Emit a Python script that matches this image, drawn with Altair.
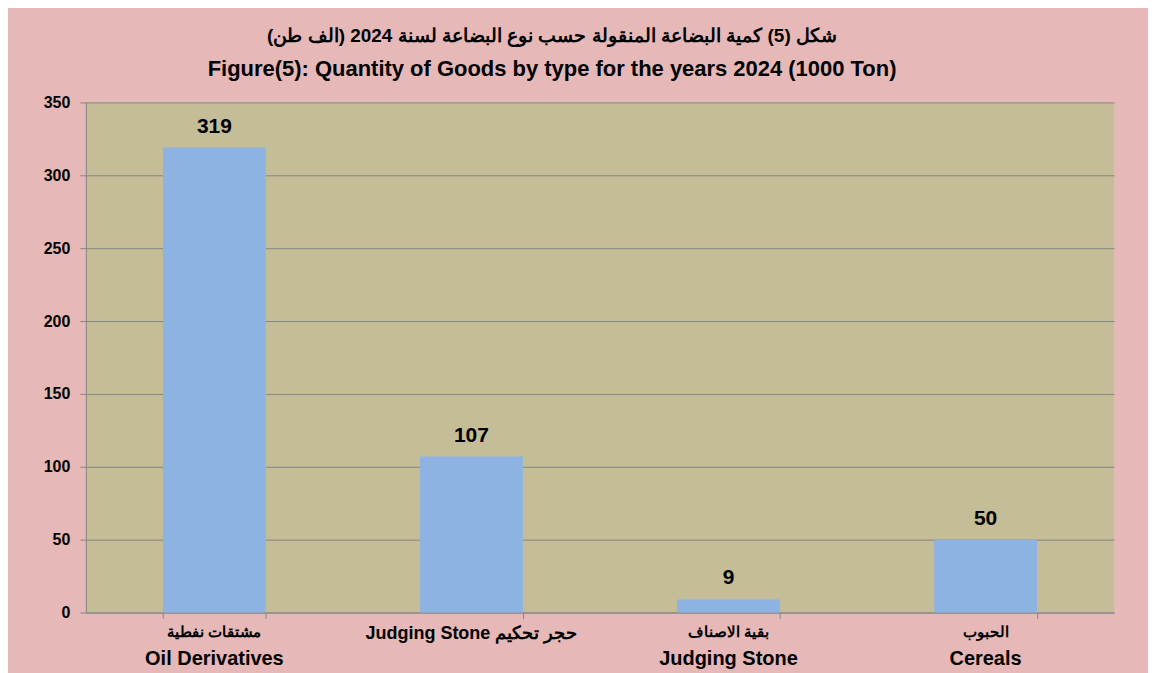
import altair as alt
import pandas as pd

categories = ["c1", "c2", "c3", "c4"]
values = [319, 107, 9, 50]
label_line1 = ["مشتقات نفطية", "Judging Stone حجر تحكيم", "بقية الاصناف", "الحبوب"]
label_line2 = ["Oil Derivatives", "", "Judging Stone", "Cereals"]
title_ar = "شكل (5) كمية البضاعة المنقولة حسب نوع البضاعة لسنة 2024 (الف طن)"
title_en = "Figure(5): Quantity of Goods by type for the years 2024 (1000 Ton)"

df = pd.DataFrame({"cat": categories, "value": values,
                   "l1": label_line1, "l2": label_line2})

FONT = "Liberation Sans"
W, H = 1030, 511

xs = alt.X("cat:N", sort=categories)
x = alt.X("cat:N", sort=categories, title=None,
          scale=alt.Scale(paddingInner=0.6, paddingOuter=0.3),
          axis=alt.Axis(labels=False, tickBand="extent", tickSize=6,
                        domainColor="#868686", tickColor="#868686", grid=False))
y = alt.Y("value:Q", title=None,
          scale=alt.Scale(domain=[0, 350], nice=False),
          axis=alt.Axis(values=list(range(0, 351, 50)), tickSize=6, labelPadding=10,
                        labelFont=FONT, labelFontSize=16, labelFontWeight="bold",
                        labelColor="black", domainColor="#868686", tickColor="#868686",
                        gridColor="#868686", gridWidth=1))

base = alt.Chart(df)
bars = base.mark_bar(color="#8DB3E2").encode(x=x, y=y)
vals = base.mark_text(font=FONT, fontSize=21, fontWeight="bold", dy=-11,
                      baseline="bottom", color="black").encode(
    x=xs, y="value:Q", text="value:Q")
lab1 = base.transform_filter("datum.l2 != ''").mark_text(
    font=FONT, fontSize=15, fontWeight="bold", baseline="middle", color="black").encode(
    x=xs, y=alt.value(H + 20), text="l1:N")
lab1b = base.transform_filter("datum.l2 == ''").mark_text(
    font=FONT, fontSize=18, fontWeight="bold", baseline="middle", color="black").encode(
    x=xs, y=alt.value(H + 22), text="l1:N")
lab2 = base.mark_text(font=FONT, fontSize=20, fontWeight="bold", baseline="middle",
                      color="black").encode(
    x=xs, y=alt.value(H + 47), text="l2:N")

chart = alt.layer(bars, vals, lab1, lab1b, lab2).properties(
    width=W, height=H,
    autosize=alt.AutoSizeParams(type="none"),
    padding={"left": 78, "top": 94, "right": 34, "bottom": 70},
    background="#E6B8B7",
    title=alt.TitleParams(text=title_ar, subtitle=title_en, font=FONT, fontSize=19,
                          fontWeight="bold", color="black", anchor="middle", dx=-48,
                          subtitleFont=FONT, subtitleFontSize=22,
                          subtitleFontWeight="bold", subtitleColor="black",
                          subtitlePadding=14, offset=14),
).configure_view(fill="#C4BD97", stroke=None)

chart.save("out.html", embed_options={"renderer": "svg", "actions": False})
